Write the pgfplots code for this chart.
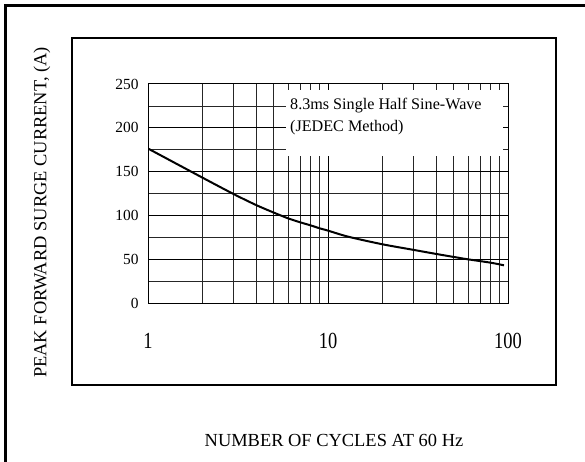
\documentclass[border=0pt]{standalone}
\usepackage{pgfplots}
\pgfplotsset{compat=1.18}
\usepackage{fontspec}
\setmainfont{Liberation Serif}

\begin{document}
\begin{tikzpicture}
\useasboundingbox (0,0) rectangle (585bp,462bp);
% outer frame: only its left and top edges fall inside the picture
\draw[line width=3bp] (5.5bp,-10bp) -- (5.5bp,456.5bp) -- (600bp,456.5bp);
% inner frame
\draw[line width=1.2bp] (72bp,77bp) rectangle (556bp,424bp);

\begin{axis}[
    at={(148bp,158.5bp)}, anchor=south west,
    scale only axis, width=360bp, height=219.5bp,
    xmode=log, xmin=1, xmax=100, ymin=0, ymax=250,
    xtick={1,10,100}, xticklabels={1,10,100},
    minor xtick={2,3,4,5,6,7,8,9,20,30,40,50,60,70,80,90},
    ytick={0,50,100,150,200,250},
    minor ytick={25,75,125,175,225},
    grid=both,
    major grid style={black, line width=1bp},
    minor grid style={black!85, line width=0.8bp},
    axis line style={black, line width=1bp},
    major tick length=0pt, minor tick length=0pt,
    /pgf/number format/assume math mode=true,
    xticklabel style={font=\fontsize{18.5}{20}\selectfont, yscale=1.25, yshift=-20bp},
    yticklabel style={font=\fontsize{15.5}{17}\selectfont, xshift=-6bp},
]
\addplot[black, line width=2bp, smooth] coordinates {
    (1,176.5) (2,143.5) (3,124.5) (4,112) (5,103.5) (6,97) (7,92.5)
    (8,89) (9,85.6) (10,83) (13,76) (20,67.5) (30,61) (40,56.4)
    (50,53) (60,50.3) (80,46.5) (95,43.5)
};
\fill[white] (axis cs:5.85,168) rectangle (axis cs:93.8,243);
\node[anchor=west, inner sep=0pt, font=\fontsize{16.2}{18}\selectfont]
    at (axis cs:6.15,225) {8.3ms Single Half Sine-Wave};
\node[anchor=west, inner sep=0pt, font=\fontsize{16.2}{18}\selectfont]
    at (axis cs:6.15,200) {(JEDEC Method)};
\end{axis}

\node[font=\fontsize{18.5}{20}\selectfont] at (334bp,22bp) {NUMBER OF CYCLES AT 60 Hz};
\node[rotate=90, font=\fontsize{18.5}{20}\selectfont] at (42bp,249.5bp) {PEAK FORWARD SURGE CURRENT, (A)};
\end{tikzpicture}
\end{document}
